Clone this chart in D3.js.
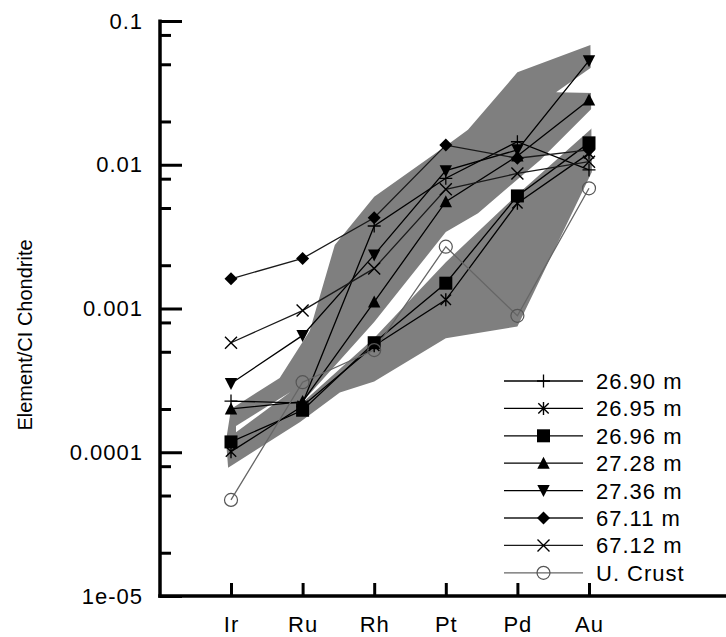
<!DOCTYPE html>
<html><head><meta charset="utf-8">
<script src="https://cdn.jsdelivr.net/npm/d3@7"></script>
<style>
body{margin:0;background:#fff;}
svg{display:block;}
text{font-family:"Liberation Sans",Arial,Helvetica,sans-serif;fill:#000;}
</style>
</head><body>
<svg id="chart" width="726" height="637"></svg>
<script>
// ---------- data ----------
const categories = ["Ir", "Ru", "Rh", "Pt", "Pd", "Au"];
const seriesNames = ["26.90 m", "26.95 m", "26.96 m", "27.28 m", "27.36 m", "67.11 m", "67.12 m", "U. Crust"];
const s2690 = [0.000227, 0.00022, 0.00375, 0.00805, 0.01445, 0.0092];
const s2695 = [0.000101, 0.00021, 0.00055, 0.00115, 0.0054, 0.012];
const s2696 = [0.000118, 0.000196, 0.000578, 0.0015, 0.00607, 0.0142];
const s2728 = [0.0002, 0.000225, 0.00111, 0.00553, 0.0115, 0.0282];
const s2736 = [0.000301, 0.00065, 0.00236, 0.0091, 0.0127, 0.053];
const s6711 = [0.00161, 0.00223, 0.00428, 0.0137, 0.0111, 0.0127];
const s6712 = [0.000578, 0.000967, 0.0019, 0.00675, 0.0087, 0.0105];
const uCrust = [0.0000466, 0.000307, 0.000514, 0.00269, 0.00089, 0.00686];

// shaded reference field outline: [element position, value]
const fieldOutline = [
  [5.02, 0.068], [5.04, 0.0089], [4.0, 0.00075], [3.0, 0.00062], [2.0, 0.00031],
  [1.52, 0.00026], [0.96, 0.000162], [-0.04, 0.000078], [-0.07, 0.00012],
  [0.0, 0.0002], [0.68, 0.000329], [1.1, 0.0007], [1.45, 0.00277],
  [2.0, 0.006], [3.0, 0.0135], [3.31, 0.0175], [4.0, 0.044]
];
// unshaded gaps inside the field
const fieldGapStripe = [
  [0.96, 0.000213], [2.0, 0.000805], [3.0, 0.0034], [3.45, 0.0046], [4.32, 0.0108],
  [5.06, 0.0252], [5.06, 0.0183], [4.0, 0.0062], [3.0, 0.0021], [2.0, 0.000623]
];
const fieldGapWedge = [[4.54, 0.032], [5.06, 0.0486], [5.06, 0.0316]];
const fieldGapSliver = [[0.07, 0.000152], [0.83, 0.000262], [0.07, 0.000138]];

const yTickValues = [0.1, 0.01, 0.001, 0.0001, 0.00001];
const yTickLabels = ["0.1", "0.01", "0.001", "0.0001", "1e-05"];
const yMinorTicks = [0.08, 0.05, 0.02, 0.008, 0.005, 0.002, 0.0008, 0.0005, 0.0002, 0.00008, 0.00005, 0.00002];
const yTitle = "Element/CI Chondrite";

// ---------- chart ----------
const svg = d3.select("#chart");
const x = d3.scaleLinear().domain([0, 5]).range([231, 589]);
const y = d3.scaleLog().domain([1e-5, 0.1]).range([596, 21]);
const axisX0 = 160, axisY0 = 596;

const series = [s2690, s2695, s2696, s2728, s2736, s6711, s6712, uCrust];
const markers = ["plus", "star", "square", "tri", "tridown", "diamond", "cross", "circle"];
const lineColors = ["#000", "#000", "#000", "#000", "#000", "#1a1a1a", "#1a1a1a", "#666"];

const polyLine = d3.line().x(d => x(d[0])).y(d => y(d[1]));
svg.append("path").attr("d", polyLine(fieldOutline) + "Z").attr("fill", "#7f7f7f");
[fieldGapStripe, fieldGapWedge, fieldGapSliver].forEach(gap =>
  svg.append("path").attr("d", polyLine(gap) + "Z").attr("fill", "#fff"));

// axes
const yAxisMajor = d3.axisLeft(y).tickValues(yTickValues).tickSize(-22).tickSizeOuter(0).tickPadding(17)
  .tickFormat((d, i) => yTickLabels[i]);
const gy = svg.append("g").attr("transform", `translate(${axisX0},0)`).call(yAxisMajor);
gy.select(".domain").remove();
gy.selectAll(".tick line").attr("stroke", "#000").attr("stroke-width", 3);
gy.selectAll(".tick text").attr("font-size", 22).attr("letter-spacing", 1).attr("fill", "#000");
const yAxisMinor = d3.axisLeft(y).tickValues(yMinorTicks).tickSize(-11).tickSizeOuter(0).tickFormat("");
const gym = svg.append("g").attr("transform", `translate(${axisX0},0)`).call(yAxisMinor);
gym.select(".domain").remove();
gym.selectAll(".tick line").attr("stroke", "#000").attr("stroke-width", 3);

const xAxis = d3.axisBottom(x).tickValues(d3.range(categories.length)).tickSize(-13).tickSizeOuter(0)
  .tickPadding(20).tickFormat(i => categories[i]);
const gx = svg.append("g").attr("transform", `translate(0,${axisY0})`).call(xAxis);
gx.select(".domain").remove();
gx.selectAll(".tick line").attr("stroke", "#000").attr("stroke-width", 3);
gx.selectAll(".tick text").attr("font-size", 22).attr("letter-spacing", 1).attr("fill", "#000");

svg.append("line").attr("x1", axisX0).attr("x2", axisX0).attr("y1", y(0.1) - 1.5).attr("y2", axisY0 + 1.75)
  .attr("stroke", "#000").attr("stroke-width", 3.5);
svg.append("line").attr("x1", axisX0 - 1.75).attr("x2", 726).attr("y1", axisY0).attr("y2", axisY0)
  .attr("stroke", "#000").attr("stroke-width", 3.5);

svg.append("text").attr("transform", `translate(32,335) rotate(-90)`)
  .attr("text-anchor", "middle").attr("font-size", 20).text(yTitle);

// markers
function drawMarker(g, type, cx, cy, color) {
  const s = 6.5;
  const t = `translate(${cx},${cy})`;
  if (type === "plus") {
    g.append("path").attr("transform", t).attr("d", `M${-s},0H${s}M0,${-s}V${s}`)
      .attr("stroke", color).attr("stroke-width", 1.3).attr("fill", "none");
  } else if (type === "star") {
    const a = 5.2;
    g.append("path").attr("transform", t)
      .attr("d", `M0,${-s}V${s}M${-a},${-a}L${a},${a}M${-a},${a}L${a},${-a}`)
      .attr("stroke", color).attr("stroke-width", 1.4).attr("fill", "none");
  } else if (type === "cross") {
    const c = 6;
    g.append("path").attr("transform", t).attr("d", `M${-c},${-c}L${c},${c}M${-c},${c}L${c},${-c}`)
      .attr("stroke", color).attr("stroke-width", 1.4).attr("fill", "none");
  } else if (type === "square") {
    g.append("rect").attr("x", cx - 6.5).attr("y", cy - 6.5).attr("width", 13).attr("height", 13).attr("fill", color);
  } else if (type === "tri") {
    g.append("path").attr("transform", t).attr("d", "M0,-6.5L6.2,5.5L-6.2,5.5Z").attr("fill", color);
  } else if (type === "tridown") {
    g.append("path").attr("transform", t).attr("d", "M0,6.5L6.2,-5.5L-6.2,-5.5Z").attr("fill", color);
  } else if (type === "diamond") {
    g.append("path").attr("transform", t).attr("d", `M0,${-s}L${s},0L0,${s}L${-s},0Z`).attr("fill", color);
  } else if (type === "circle") {
    g.append("circle").attr("cx", cx).attr("cy", cy).attr("r", 6.5)
      .attr("fill", "none").attr("stroke", "#555").attr("stroke-width", 1.2);
  }
}

const lineGen = d3.line().x((d, i) => x(i)).y(d => y(d));
const gl = svg.append("g");
series.forEach((vals, k) => {
  gl.append("path").attr("d", lineGen(vals)).attr("fill", "none")
    .attr("stroke", lineColors[k]).attr("stroke-width", 1.3);
});
series.forEach((vals, k) => {
  vals.forEach((v, i) => drawMarker(gl, markers[k], x(i), y(v), k === 7 ? "#555" : "#000"));
});

// legend
const lg = svg.append("g");
seriesNames.forEach((name, k) => {
  const ry = 381 + k * 27.4;
  lg.append("line").attr("x1", 504).attr("x2", 583).attr("y1", ry).attr("y2", ry)
    .attr("stroke", lineColors[k]).attr("stroke-width", 1.3);
  drawMarker(lg, markers[k], 543.5, ry, k === 7 ? "#555" : "#000");
  lg.append("text").attr("x", 596).attr("y", ry).attr("dy", "0.36em").attr("font-size", 22)
    .attr("letter-spacing", 1).text(name);
});
</script>
</body></html>
